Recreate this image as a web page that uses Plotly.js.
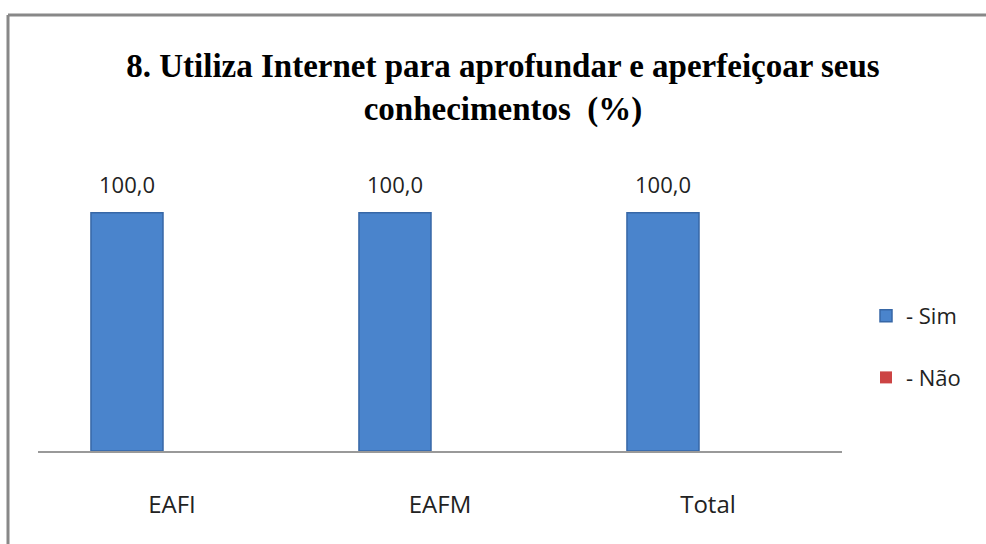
<!DOCTYPE html>
<html>
<head>
<meta charset="utf-8">
<script src="https://cdn.plot.ly/plotly-3.0.1.min.js"></script>
<style>html,body{margin:0;padding:0;background:#fff;} #chart{width:986px;height:544px;}</style>
</head>
<body>
<div id="chart"></div>
<script>
var categories = ["EAFI", "EAFM", "Total"];
var seriesNames = ["- Sim", "- Não"];
var simValues = [100.0, 100.0, 100.0];
var naoValues = [0, 0, 0];
var valueLabels = ["100,0", "100,0", "100,0"];
var titleText = "8. Utiliza Internet para aprofundar e aperfeiçoar seus<br>conhecimentos  (%)";

var ml = 38, mr = 144, mt = 165, mb = 93, W = 986, H = 544;
var pw = W - ml - mr, ph = H - mt - mb;
function px(x){ return (x - ml) / pw; }
function py(y){ return (H - mb - y) / ph; }

var labelFont = {family: "Open Sans, Liberation Sans Narrow, sans-serif", size: 22, color: "#222"};
var tickFont = {family: "Open Sans, Liberation Sans Narrow, sans-serif", size: 24, color: "#222"};

var traces = [
  {
    type: "bar", x: categories, y: simValues, name: seriesNames[0],
    legendgroup: "a",
    marker: {color: "#4a84cc", line: {color: "#3767a6", width: 1.5}},
    cliponaxis: false, hoverinfo: "skip"
  },
  {
    type: "bar", x: categories, y: naoValues, name: seriesNames[1],
    legendgroup: "b",
    marker: {color: "#cc4444", line: {color: "#a33333", width: 0}},
    hoverinfo: "skip"
  }
];

var annotations = categories.map(function(c, i){
  return {
    x: c, y: simValues[i], xref: "x", yref: "y", xshift: -45,
    text: valueLabels[i], showarrow: false, yanchor: "bottom", yshift: 12,
    font: labelFont
  };
});

var layout = {
  width: W, height: H,
  margin: {l: ml, r: mr, t: mt, b: mb},
  paper_bgcolor: "#fff", plot_bgcolor: "#fff",
  barmode: "group", bargap: 0.328, bargroupgap: 0.2,
  title: {
    text: titleText,
    font: {family: "Liberation Serif, Times New Roman, serif", size: 33, color: "#000", weight: "bold"},
    x: 503 / W, xanchor: "center", xref: "container", yref: "container", y: 1 - 77 / H, yanchor: "middle"
  },
  xaxis: {
    showline: true, linecolor: "#999", linewidth: 1.5, ticks: "", showgrid: false,
    tickfont: tickFont, ticklabelstandoff: 32, fixedrange: true
  },
  yaxis: {range: [0, 120], visible: false, showgrid: false, zeroline: false, fixedrange: true},
  showlegend: true,
  legend: {
    x: px(866), xanchor: "left", y: py(295), yanchor: "top",
    font: labelFont,
    tracegroupgap: 30, bgcolor: "rgba(0,0,0,0)"
  },
  annotations: annotations,
  shapes: [
    {type: "line", xref: "paper", yref: "paper", x0: px(8), x1: px(8), y0: py(15), y1: py(560), line: {color: "#888", width: 3}},
    {type: "line", xref: "paper", yref: "paper", x0: px(8), x1: px(1000), y0: py(15), y1: py(15), line: {color: "#888", width: 3}}
  ]
};

Plotly.newPlot("chart", traces, layout, {displayModeBar: false, staticPlot: true});
</script>
</body>
</html>
